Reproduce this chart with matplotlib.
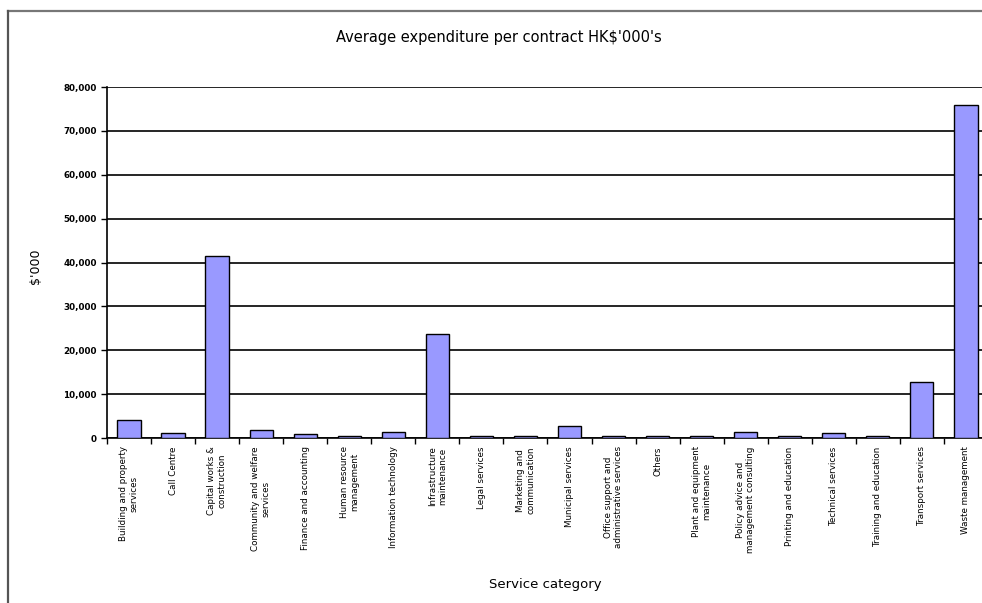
import matplotlib.pyplot as plt
from matplotlib.lines import Line2D
from matplotlib.ticker import FuncFormatter

# categorias y valores ($'000)
categorias = [
    'Building and property\nservices',
    'Call Centre',
    'Capital works &\nconstruction',
    'Community and welfare\nservices',
    'Finance and accounting',
    'Human resource\nmanagement',
    'Information technology',
    'Infrastructure\nmaintenance',
    'Legal services',
    'Marketing and\ncommunication',
    'Municipal services',
    'Office support and\nadministrative services',
    'Others',
    'Plant and equipment\nmaintenance',
    'Policy advice and\nmanagement consulting',
    'Printing and education',
    'Technical services',
    'Training and education',
    'Transport services',
    'Waste management',
]
gasto = [4200, 1050, 41600, 1800, 850, 500, 1400, 23800, 500, 500,
         2800, 400, 400, 400, 1400, 400, 1050, 400, 12700, 75900]
yticks = [0, 10000, 20000, 30000, 40000, 50000, 60000, 70000, 80000]

fig = plt.figure(figsize=(9.82, 6.03), dpi=100)
ax = fig.add_axes([0.109, 0.2736, 0.897, 0.582])

x = list(range(len(categorias)))
ax.bar(x, gasto, width=0.53, color='#9999FF', edgecolor='black', linewidth=1.0, zorder=3)

ax.set_xlim(-0.5, len(categorias) - 0.5)
ax.set_ylim(0, 80000)
ax.set_yticks(yticks)
ax.yaxis.set_major_formatter(FuncFormatter(lambda v, p: f'{int(v):,}'))
ax.grid(axis='y', color='black', linewidth=1.2, zorder=1)

# etiquetas del eje x
ax.set_xticks(x)
ax.set_xticklabels(categorias, rotation=90, ha='center', va='top',
                   multialignment='center', fontsize=6.3)
ax.tick_params(axis='x', length=0, pad=6)
ax.set_xticks([i - 0.5 for i in range(len(categorias) + 1)], minor=True)
ax.tick_params(axis='x', which='minor', length=4, width=1, direction='out')
ax.tick_params(axis='y', length=4, width=1, labelsize=6.3)
for t in ax.get_yticklabels():
    t.set_fontweight('bold')

for s in ['top', 'right']:
    ax.spines[s].set_visible(False)
ax.spines['left'].set_linewidth(1.2)
ax.spines['bottom'].set_linewidth(1.2)

ax.set_ylabel("$'000", fontsize=9)
ax.yaxis.set_label_coords(-0.074, 0.49)
ax.set_xlabel('Service category', fontsize=9.5)
ax.xaxis.set_label_coords(0.497, -0.399)

fig.text(0.508, 0.937, "Average expenditure per contract HK$'000's",
         ha='center', va='center', fontsize=10.5)

# borde del grafico
fig.add_artist(Line2D([8 / 982, 1], [1 - 11 / 603, 1 - 11 / 603],
                      color='#777777', linewidth=1.6))
fig.add_artist(Line2D([8 / 982, 8 / 982], [0, 1 - 11 / 603],
                      color='#555555', linewidth=1.6))

fig.savefig('out.png', dpi=100)
